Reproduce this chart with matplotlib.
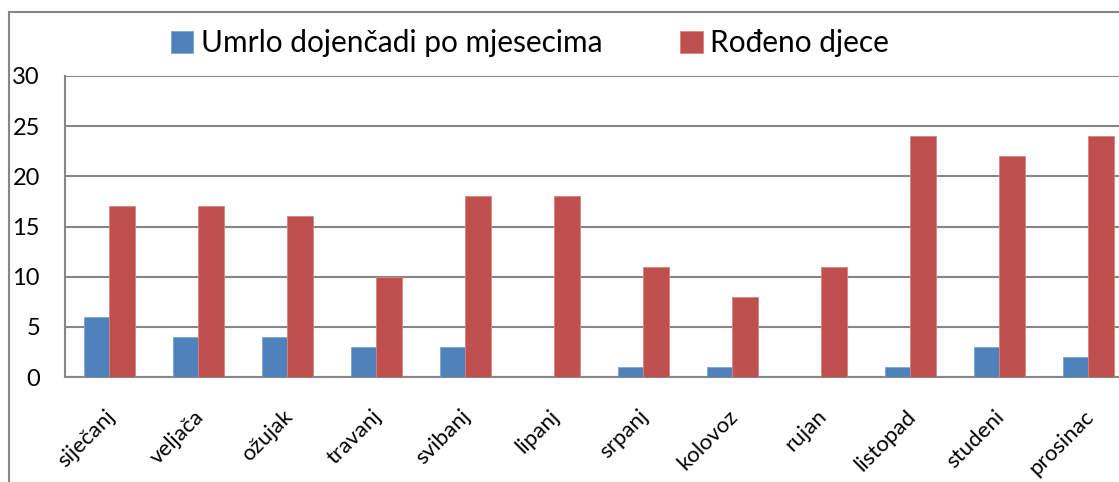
import matplotlib
matplotlib.use("Agg")
import matplotlib.pyplot as plt
from matplotlib.patches import Rectangle
import matplotlib.transforms as mtransforms
import numpy as np

months = ["siječanj", "veljača", "ožujak", "travanj", "svibanj", "lipanj",
          "srpanj", "kolovoz", "rujan", "listopad", "studeni", "prosinac"]
umrlo = [6, 4, 4, 3, 3, 0, 1, 1, 0, 1, 3, 2]
rodeno = [17, 17, 16, 10, 18, 18, 11, 8, 11, 24, 22, 24]
yticks = [0, 5, 10, 15, 20, 25, 30]

plt.rcParams["font.family"] = ["Lato", "DejaVu Sans"]

blue = "#4F81BD"
red = "#C0504D"
grey = "#868686"

fig = plt.figure(figsize=(11.19, 4.82), dpi=100)

# outer chart frame (cropped on right and bottom)
fig.patches.append(Rectangle((9 / 1119, -0.1), 1.2, 1 - 12 / 482 + 0.1,
                             transform=fig.transFigure, fill=False,
                             edgecolor=grey, linewidth=1.5))

ax = fig.add_axes([65 / 1119, 105 / 482, 1068 / 1119, 301 / 482])

x = np.arange(len(months))
w = 1 / 3.5
ax.bar(x - w / 2, umrlo, w, color=blue, edgecolor="#7FA3D0", linewidth=0.6,
       label="Umrlo dojenčadi po mjesecima", zorder=3)
ax.bar(x + w / 2, rodeno, w, color=red, edgecolor="#D9827F", linewidth=0.6,
       label="Rođeno djece", zorder=3)

ax.set_xlim(-0.5, len(months) - 0.5)
ax.set_ylim(0, 30)
ax.set_yticks(yticks)
ax.yaxis.grid(True, color=grey, linewidth=1.5, zorder=0)
ax.set_axisbelow(True)

for s in ["top", "right"]:
    ax.spines[s].set_visible(False)
for s in ["left", "bottom"]:
    ax.spines[s].set_color(grey)
    ax.spines[s].set_linewidth(1.5)

ax.tick_params(axis="both", length=0)
ax.tick_params(axis="y", pad=18, labelsize=17)
ax.set_xticks(x)
ax.set_xticklabels(months, rotation=45, ha="right", rotation_mode="anchor")
ax.tick_params(axis="x", pad=21, labelsize=16)
shift = mtransforms.ScaledTranslation(-0.05, 0, fig.dpi_scale_trans)
for lbl in ax.get_xticklabels():
    lbl.set_transform(lbl.get_transform() + shift)

fig.legend(loc="center", bbox_to_anchor=(530 / 1119, 1 - 43 / 482), ncol=2,
           frameon=False, fontsize=21.5, handlelength=0.75, handleheight=0.75,
           handletextpad=0.25, columnspacing=2.6)

fig.savefig("out.png", dpi=100)
